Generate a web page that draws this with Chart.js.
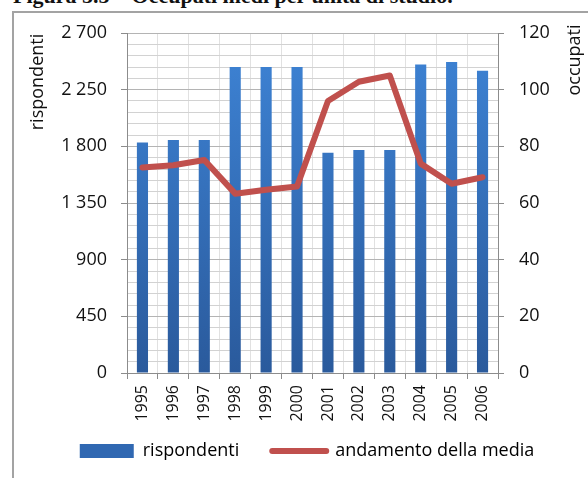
<!DOCTYPE html>
<html lang="it">
<head>
<meta charset="utf-8">
<title>Occupati medi per unità di studio</title>
<script src="https://cdn.jsdelivr.net/npm/chart.js@4.4.1/dist/chart.umd.min.js"></script>
<style>
    html, body { margin: 0; padding: 0; background: #fff; }
    body { width: 588px; height: 478px; position: relative; overflow: hidden; }
    #title {
        position: absolute; left: 13px; top: -15px;
        font: bold 22px/22px "Liberation Serif", serif; color: #111; white-space: nowrap;
    }
    #frame {
        position: absolute; left: 12px; top: 11px; width: 600px; height: 500px;
        border-left: 2px solid #a3a3a3; border-top: 2px solid #a3a3a3;
    }
    #chart { position: absolute; left: 0; top: 0; }
</style>
</head>
<body>
<div id="title">Figura 5.5 – Occupati medi per unità di studio.</div>
<div id="frame"></div>
<canvas id="chart" width="588" height="478"></canvas>
<script>
    // dati
    const anni = ['1995', '1996', '1997', '1998', '1999', '2000', '2001', '2002', '2003', '2004', '2005', '2006'];
    const rispondenti = [1830, 1850, 1850, 2430, 2430, 2430, 1750, 1770, 1770, 2450, 2470, 2400];
    const andamentoMedia = [72.5, 73.3, 75.2, 63.3, 64.7, 65.8, 96, 102.8, 105, 73.9, 66.8, 69.1];

    const fontFamily = '"Open Sans", sans-serif';
    const axisColor = '#8c8c8c';

    // separatore delle migliaia con spazio (es. 2 700)
    const formatMigliaia = (v) => String(v).replace(/\B(?=(\d{3})+(?!\d))/g, ' ');

    function barGradient(context) {
        const chart = context.chart;
        const area = chart.chartArea;
        if (!area) {
            return '#3371bd';
        }
        const g = chart.ctx.createLinearGradient(0, area.top, 0, area.bottom);
        g.addColorStop(0, '#3e84d6');
        g.addColorStop(1, '#2a5a9c');
        return g;
    }

    // titoli degli assi in verticale, in alto come nell'originale
    const axisTitles = {
        id: 'axisTitles',
        afterDraw(chart) {
            const c = chart.ctx;
            const titles = [['rispondenti', 38, 82], ['occupati', 575, 60]];
            titles.forEach(([text, x, y]) => {
                c.save();
                c.font = '18px ' + fontFamily;
                c.fillStyle = '#111';
                c.textAlign = 'center';
                c.textBaseline = 'middle';
                c.translate(x, y);
                c.rotate(-Math.PI / 2);
                c.fillText(text, 0, 0);
                c.restore();
            });
        }
    };

    const data = {
        labels: anni,
        datasets: [{
            type: 'bar',
            label: 'rispondenti',
            data: rispondenti,
            backgroundColor: barGradient,
            barPercentage: 0.36,
            categoryPercentage: 1,
            yAxisID: 'y',
            order: 1
        }, {
            type: 'line',
            label: 'andamento della media',
            data: andamentoMedia,
            borderColor: '#c0504d',
            backgroundColor: '#c0504d',
            borderWidth: 6,
            pointRadius: 0,
            tension: 0,
            borderJoinStyle: 'round',
            borderCapStyle: 'round',
            yAxisID: 'y1',
            order: 0
        }]
    };

    const config = {
        data: data,
        options: {
            responsive: false,
            animation: false,
            events: [],
            layout: {
                padding: {left: 40, right: 14, top: 33, bottom: 8}
            },
            plugins: {
                tooltip: {enabled: false},
                legend: {
                    position: 'bottom',
                    labels: {
                        font: {family: fontFamily, size: 18},
                        color: '#111',
                        usePointStyle: true,
                        pointStyleWidth: 54,
                        boxHeight: 14,
                        padding: 33,
                        sort: (a, b) => a.datasetIndex - b.datasetIndex,
                        generateLabels(chart) {
                            return chart.data.datasets.map((ds, i) => ({
                                text: ds.label,
                                datasetIndex: i,
                                fillStyle: ds.type === 'bar' ? '#3068b2' : '#c0504d',
                                strokeStyle: ds.type === 'bar' ? '#3068b2' : '#c0504d',
                                lineWidth: ds.type === 'bar' ? 0 : 6,
                                lineCap: 'round',
                                pointStyle: ds.type === 'bar' ? 'rect' : 'line',
                                hidden: false
                            }));
                        }
                    }
                }
            },
            scales: {
                x: {
                    offset: true,
                    afterFit(scale) {
                        scale.height = 36;
                        // le etichette ruotate scendono sotto l'asse: niente ritaglio
                        scale._computeLabelArea = () => undefined;
                    },
                    grid: {
                        offset: true,
                        drawOnChartArea: true,
                        color: 'rgba(170,170,170,0.35)',
                        borderDash: [2, 7],
                        tickColor: axisColor,
                        tickBorderDash: [],
                        tickLength: 6
                    },
                    border: {color: axisColor, width: 1},
                    ticks: {
                        font: {family: fontFamily, size: 16},
                        color: '#111',
                        minRotation: 90,
                        maxRotation: 90,
                        autoSkip: false,
                        padding: 6
                    }
                },
                y: {
                    position: 'left',
                    min: 0,
                    max: 2700,
                    afterFit(scale) {
                        scale.width = 87;
                    },
                    grid: {
                        color: (ctx) => (ctx.tick && ctx.tick.value % 450 === 0) ? '#b4b4b4' : '#d2d2d2',
                        tickColor: (ctx) => (ctx.tick && ctx.tick.value % 450 === 0) ? axisColor : 'rgba(0,0,0,0)',
                        tickLength: 6
                    },
                    border: {color: axisColor, width: 1},
                    ticks: {
                        stepSize: 90,
                        autoSkip: false,
                        padding: 14,
                        font: {family: fontFamily, size: 18},
                        color: '#111',
                        callback: (v) => v % 450 === 0 ? formatMigliaia(v) : ''
                    }
                },
                y1: {
                    position: 'right',
                    min: 0,
                    max: 120,
                    afterFit(scale) {
                        scale.width = 76;
                    },
                    grid: {
                        drawOnChartArea: false,
                        tickColor: (ctx) => (ctx.tick && ctx.tick.value % 20 === 0) ? axisColor : 'rgba(0,0,0,0)',
                        tickLength: 6
                    },
                    border: {color: axisColor, width: 1},
                    ticks: {
                        stepSize: 4,
                        autoSkip: false,
                        padding: 15,
                        font: {family: fontFamily, size: 18},
                        color: '#111',
                        callback: (v) => v % 20 === 0 ? String(v) : ''
                    }
                }
            }
        },
        plugins: [axisTitles]
    };

    new Chart(document.getElementById('chart'), config);
</script>
</body>
</html>
